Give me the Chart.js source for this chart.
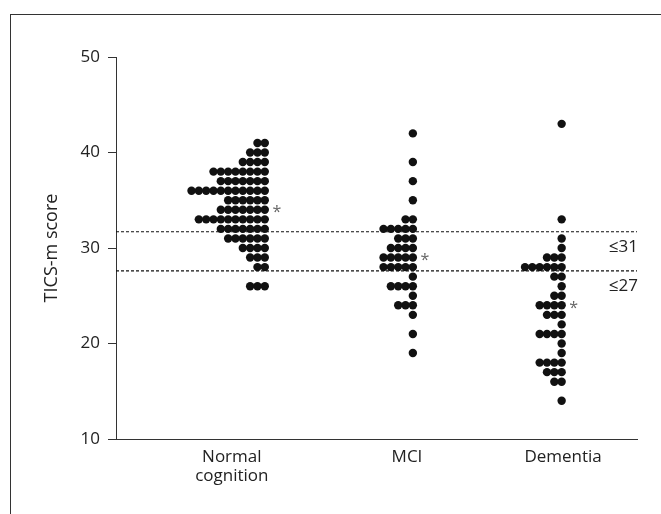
<!DOCTYPE html>
<html>
<head>
<meta charset="utf-8">
<script src="https://cdn.jsdelivr.net/npm/chart.js@4/dist/chart.umd.min.js"></script>
<style>
    body { margin: 0; background: #fff; }
    #wrap { position: relative; width: 661px; height: 514px; overflow: hidden; }
    #frame { position: absolute; left: 10px; top: 14px; width: 700px; height: 600px;
             border-left: 1px solid #333; border-top: 1px solid #333; }
    #chart { position: absolute; left: 0; top: 0; }
</style>
</head>
<body>
<div id="wrap">
    <div id="frame"></div>
    <canvas id="chart" width="661" height="514"></canvas>
</div>
<script>
// groups and their score distributions (score -> number of subjects)
const groups = ['Normal cognition', 'MCI', 'Dementia'];
const groupLabels = [['Normal', 'cognition'], ['MCI'], ['Dementia']];

const normalScores = [41, 40, 39, 38, 37, 36, 35, 34, 33, 32, 31, 30, 29, 28, 26];
const normalCounts = [2, 3, 4, 8, 7, 11, 6, 7, 10, 7, 6, 4, 3, 2, 3];

const mciScores = [42, 39, 37, 35, 33, 32, 31, 30, 29, 28, 27, 26, 25, 24, 23, 21, 19];
const mciCounts = [1, 1, 1, 1, 2, 5, 3, 4, 5, 5, 1, 4, 1, 3, 1, 1, 1];

const dementiaScores = [43, 33, 31, 30, 29, 28, 27, 26, 25, 24, 23, 22, 21, 20, 19, 18, 17, 16, 14];
const dementiaCounts = [1, 1, 1, 1, 3, 6, 2, 1, 2, 4, 3, 1, 4, 1, 1, 4, 3, 2, 1];

// cut-off lines and group medians marked with *
const cutoffValues = [31.7, 27.6];
const cutoffLabels = ['\u226431', '\u226427'];
const starScores = [34, 29, 24];

const yTicks = [10, 20, 30, 40, 50];

// layout of the strip (x units = one dot width)
const columnX = [20.3, 40.5, 60.8];
const labelX = [15.8, 39.7, 61.0];
const dotStep = 1;

function stackDots(scores, counts, col) {
    const pts = [];
    scores.forEach((s, i) => {
        for (let k = 0; k < counts[i]; k++) {
            pts.push({ x: columnX[col] - k * dotStep, y: s });
        }
    });
    return pts;
}

const font = "'Open Sans', 'Noto Sans', sans-serif";
const ink = '#222';

const annotations = {
    id: 'annotations',
    afterDatasetsDraw(chart) {
        const { ctx, scales: { x, y } } = chart;
        ctx.save();
        ctx.fillStyle = ink;
        ctx.font = '17px ' + font;
        ctx.textAlign = 'right';
        ctx.textBaseline = 'middle';
        cutoffValues.forEach((v, i) => {
            ctx.fillText(cutoffLabels[i], 638, y.getPixelForValue(v) + 15);
        });
        ctx.fillStyle = '#666';
        ctx.font = '16px ' + font;
        ctx.textAlign = 'center';
        starScores.forEach((s, i) => {
            ctx.fillText('*', x.getPixelForValue(columnX[i]) + 12, y.getPixelForValue(s) + 3);
        });
        ctx.restore();
    }
};

const datasets = [
    stackDots(normalScores, normalCounts, 0),
    stackDots(mciScores, mciCounts, 1),
    stackDots(dementiaScores, dementiaCounts, 2)
].map((pts, i) => ({
    label: groups[i],
    data: pts,
    pointRadius: 4.2,
    pointHoverRadius: 4.2,
    pointBackgroundColor: '#111',
    pointBorderWidth: 0
}));

cutoffValues.forEach(v => {
    datasets.push({
        type: 'line',
        data: [{ x: 0, y: v }, { x: 72, y: v }],
        borderColor: '#111',
        borderWidth: 1.2,
        borderDash: [3, 2],
        pointRadius: 0
    });
});

new Chart(document.getElementById('chart'), {
    type: 'scatter',
    data: { datasets },
    plugins: [annotations],
    options: {
        responsive: false,
        animation: false,
        layout: { padding: { top: 57, right: 24, left: 0, bottom: 0 } },
        plugins: { legend: { display: false }, tooltip: { enabled: false } },
        scales: {
            x: {
                type: 'linear',
                min: 0,
                max: 71.08,
                afterBuildTicks: scale => { scale.ticks = labelX.map(v => ({ value: v })); },
                afterFit: scale => { scale.height = 75; },
                ticks: {
                    autoSkip: false,
                    maxRotation: 0,
                    padding: 8,
                    color: ink,
                    font: { family: font, size: 17, lineHeight: 1.15 },
                    callback: (v, i) => groupLabels[i]
                },
                grid: { display: false, drawTicks: false },
                border: { display: true, color: '#333', width: 1 }
            },
            y: {
                min: 10,
                max: 50,
                afterBuildTicks: scale => { scale.ticks = yTicks.map(v => ({ value: v })); },
                afterFit: scale => { scale.width = 116; },
                ticks: {
                    padding: 8,
                    color: ink,
                    font: { family: font, size: 17 }
                },
                grid: { drawOnChartArea: false, drawTicks: true, tickLength: 8, color: '#333' },
                border: { display: true, color: '#333', width: 1 },
                title: {
                    display: true,
                    text: 'TICS-m score',
                    color: ink,
                    font: { family: font, size: 18 },
                    padding: { top: 41, bottom: 0 }
                }
            }
        }
    }
});
</script>
</body>
</html>
